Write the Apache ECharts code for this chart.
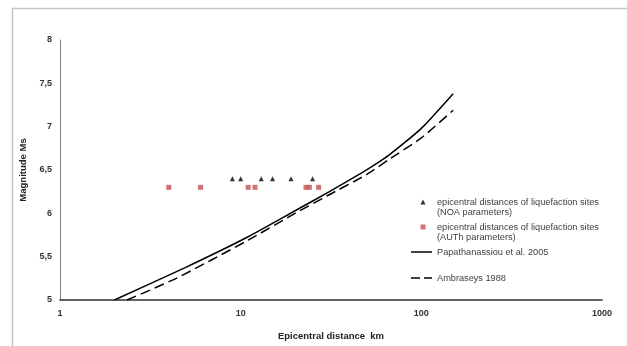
<!DOCTYPE html>
<html>
<head>
<meta charset="utf-8">
<script src="https://cdn.jsdelivr.net/npm/echarts@6/dist/echarts.min.js"></script>
<style>
html,body{margin:0;padding:0;background:#fff;}
#chart{width:627px;height:346px;}
</style>
</head>
<body>
<div id="chart"></div>
<script>
// NOA parameters: epicentral distances (km) of liquefaction sites, magnitude
var noaDist = [9, 10, 13, 15, 19, 25];
var noaMag = [6.4, 6.4, 6.4, 6.4, 6.4, 6.4];
// AUTh parameters
var authDist = [4, 6, 11, 12, 23, 24, 27];
var authMag = [6.3, 6.3, 6.3, 6.3, 6.3, 6.3, 6.3];
// Papathanassiou et al. 2005 curve
var papaDist = [2, 5, 11, 20, 31, 47, 59, 67, 100, 150];
var papaMag = [5.0, 5.38, 5.73, 6.03, 6.25, 6.47, 6.60, 6.68, 6.98, 7.38];
// Ambraseys 1988 curve
var ambDist = [2.35, 4.4, 11, 20, 30, 50, 66, 100, 150];
var ambMag = [5.0, 5.25, 5.69, 6.0, 6.2, 6.45, 6.62, 6.87, 7.19];
// axis ticks
var xTicks = [1, 10, 100, 1000];
var yMin = 5, yMax = 8, yStep = 0.5;

var names = [
  'epicentral distances of liquefaction sites\n(NOA parameters)',
  'epicentral distances of liquefaction sites\n(AUTh parameters)',
  'Papathanassiou et al. 2005',
  'Ambraseys 1988'
];

function pairs(xs, ys) { return xs.map(function (x, i) { return [x, ys[i]]; }); }

var FONT = '"Liberation Sans", Arial, sans-serif';
var legendText = { fontFamily: FONT, fontSize: 9.2, color: '#404040', lineHeight: 10.5 };

function legendFor(name, top, icon, h) {
  return {
    data: [{ name: name, icon: icon }], left: 409, top: top, orient: 'vertical', padding: 0,
    itemWidth: 23, itemHeight: h, selectedMode: false, textStyle: legendText
  };
}

var chart = echarts.init(document.getElementById('chart'), null, { renderer: 'canvas' });
chart.setOption({
  animation: false,
  backgroundColor: '#fff',
  graphic: [{
    type: 'rect', silent: true, z: -1,
    shape: { x: 12.5, y: 8.5, width: 700, height: 400 },
    style: { fill: null, stroke: '#c4c4c4', lineWidth: 1.5 }
  }],
  grid: { left: 60, right: 25, top: 40, bottom: 42, containLabel: false },
  xAxis: {
    type: 'log', logBase: 10, min: xTicks[0], max: xTicks[xTicks.length - 1],
    name: 'Epicentral distance  km', nameLocation: 'middle', nameGap: 31,
    nameTextStyle: { fontFamily: FONT, fontSize: 9.5, fontWeight: 'bold', color: '#222' },
    axisLine: { show: true, lineStyle: { color: '#303030', width: 1.5 } },
    axisTick: { show: false },
    splitLine: { show: false },
    minorTick: { show: false },
    axisLabel: { fontFamily: FONT, fontSize: 9, fontWeight: 'bold', color: '#333', margin: 9,
      formatter: function (v) { return String(Math.round(v)); } }
  },
  yAxis: {
    type: 'value', min: yMin, max: yMax, interval: yStep,
    name: 'Magnitude Ms', nameLocation: 'middle', nameGap: 32, nameRotate: 90,
    nameTextStyle: { fontFamily: FONT, fontSize: 9.5, fontWeight: 'bold', color: '#222' },
    axisLine: { show: true, lineStyle: { color: '#808080', width: 1 } },
    axisTick: { show: false },
    splitLine: { show: false },
    axisLabel: { fontFamily: FONT, fontSize: 9, fontWeight: 'bold', color: '#333', margin: 8,
      formatter: function (v) { return String(v).replace('.', ','); } }
  },
  legend: [
    legendFor(names[0], 196.75, 'path://M0,0M23,15.5M11.5,5L14,0L16.5,5Z', 15.5),
    legendFor(names[1], 221.75, 'path://M0,0M23,15.5M11.5,0H16.5V5H11.5Z', 15.5),
    legendFor(names[2], 246.75, 'path://M0,0M23,1.5M2,0H23V1.5H2Z', 1.5),
    legendFor(names[3], 272.75, 'path://M0,0M23,1.5M2,0H11V1.5H2Z M15,0H23V1.5H15Z', 1.5)
  ],
  series: [
    { name: names[0], type: 'scatter', symbol: 'triangle', symbolSize: 5,
      itemStyle: { color: '#000' }, data: pairs(noaDist, noaMag), z: 5 },
    { name: names[1], type: 'scatter', symbol: 'rect', symbolSize: 5,
      itemStyle: { color: '#c0504d' }, data: pairs(authDist, authMag), z: 5 },
    { name: names[2], type: 'line', symbol: 'none', smooth: 0.2,
      lineStyle: { color: '#000', width: 1.5, type: 'solid' },
      itemStyle: { color: '#000' }, data: pairs(papaDist, papaMag) },
    { name: names[3], type: 'line', symbol: 'none', smooth: 0.2,
      lineStyle: { color: '#000', width: 1.5, type: [10, 5] },
      itemStyle: { color: '#000' }, data: pairs(ambDist, ambMag) }
  ]
});
</script>
</body>
</html>
